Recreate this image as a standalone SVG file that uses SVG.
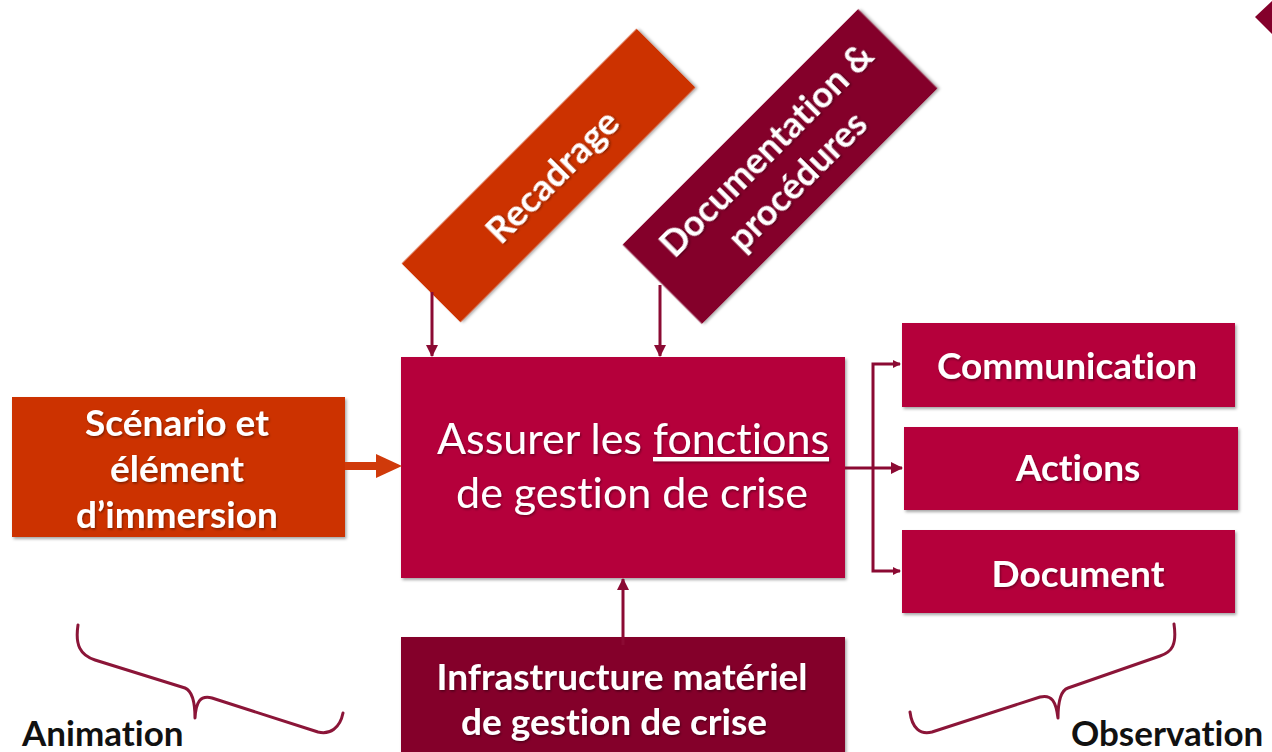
<svg xmlns="http://www.w3.org/2000/svg" width="1272" height="752" viewBox="0 0 1272 752">
<defs>
<filter id="sh" x="-10%" y="-10%" width="130%" height="130%">
<feDropShadow dx="1.5" dy="2" stdDeviation="1.5" flood-color="#000" flood-opacity="0.35"/>
</filter>
<filter id="tsh" x="-10%" y="-20%" width="120%" height="150%">
<feDropShadow dx="1" dy="1.5" stdDeviation="0.8" flood-color="#000" flood-opacity="0.4"/>
</filter>
<marker id="ah" markerWidth="8" markerHeight="8" refX="7" refY="4" orient="auto" markerUnits="userSpaceOnUse" viewBox="0 0 8 8">
<path d="M0,0 L8,4 L0,8 z" fill="#8B0A33"/>
</marker>
<marker id="ahb" markerWidth="12" markerHeight="12" refX="11" refY="6" orient="auto" markerUnits="userSpaceOnUse" viewBox="0 0 12 12">
<path d="M0,0 L12,6 L0,12 z" fill="#8B0A33"/>
</marker>
</defs>
<style>
.orange{fill:#CC3300}
.crimson{fill:#B5003A}
.maroon{fill:#84002B}
text{font-variant-ligatures:none;font-feature-settings:"liga" 0,"clig" 0}
.lbl{font-family:Lato,"Open Sans","Liberation Sans",sans-serif;font-weight:bold;fill:#fff;text-anchor:middle}
.main{font-family:Lato,"Open Sans","Liberation Sans",sans-serif;font-weight:normal;fill:#fff;text-anchor:middle}
.cap{font-family:Lato,"Open Sans","Liberation Sans",sans-serif;font-weight:bold;fill:#111}
.con{stroke:#8B0A33;stroke-width:3;fill:none}
.brace{stroke:#8B1538;stroke-width:3;fill:none;stroke-linecap:round;stroke-linejoin:round}
</style>
<rect width="1272" height="752" fill="#fff"/>

<g id="corner"><polygon points="1272,1 1255,17 1272,34" fill="#84002B"/></g>

<g id="recadrage">
<g transform="translate(548.5,175.5) rotate(-45)">
<rect x="-166" y="-41.5" width="332" height="83" class="orange" filter="url(#sh)"/>
<text x="2" y="16" class="lbl" font-size="37" filter="url(#tsh)">Recadrage</text>
</g>
</g>

<g id="documentation">
<g transform="translate(780,166.5) rotate(-45)">
<rect x="-166.5" y="-56" width="333" height="112" class="maroon" filter="url(#sh)"/>
<text x="2" y="-9" class="lbl" font-size="36" filter="url(#tsh)">Documentation &amp;</text>
<text x="2" y="35" class="lbl" font-size="36" filter="url(#tsh)">procédures</text>
</g>
</g>

<g id="scenario">
<rect x="12" y="397" width="333" height="140" class="orange" filter="url(#sh)"/>
<g filter="url(#tsh)">
<text x="177" y="436" class="lbl" font-size="37">Scénario et</text>
<text x="177" y="482" class="lbl" font-size="37">élément</text>
<text x="177" y="528" class="lbl" font-size="37">d’immersion</text>
</g>
</g>

<g id="main">
<rect x="401" y="357" width="444" height="221" class="crimson" filter="url(#sh)"/>
<g filter="url(#tsh)">
<text x="633" y="454" class="main" font-size="43">Assurer les <tspan text-decoration="underline">fonctions</tspan></text>
<text x="632" y="508" class="main" font-size="43">de gestion de crise</text>
</g>
</g>

<g id="communication">
<rect x="902" y="323" width="333" height="84" class="crimson" filter="url(#sh)"/>
<text x="1067" y="379" class="lbl" font-size="37" filter="url(#tsh)">Communication</text>
</g>
<g id="actions">
<rect x="904" y="427" width="334" height="83" class="crimson" filter="url(#sh)"/>
<text x="1078" y="481" class="lbl" font-size="37" filter="url(#tsh)">Actions</text>
</g>
<g id="document">
<rect x="902" y="530" width="333" height="83" class="crimson" filter="url(#sh)"/>
<text x="1078" y="587" class="lbl" font-size="37" filter="url(#tsh)">Document</text>
</g>

<g id="infrastructure">
<rect x="401" y="637" width="444" height="120" class="maroon" filter="url(#sh)"/>
<g filter="url(#tsh)">
<text x="622" y="690" class="lbl" font-size="37">Infrastructure matériel</text>
<text x="614" y="735" class="lbl" font-size="37">de gestion de crise</text>
</g>
</g>

<g id="connectors">
<line x1="432" y1="292" x2="432" y2="356" class="con" marker-end="url(#ahb)"/>
<line x1="660" y1="285" x2="660" y2="356" class="con" marker-end="url(#ahb)"/>
<line x1="623" y1="645" x2="623" y2="579" class="con" marker-end="url(#ahb)"/>
<path d="M345,466 H378" stroke="#D03A0A" stroke-width="8" fill="none"/>
<polygon points="376,454 402,466 376,478" fill="#D03A0A"/>
<line x1="845" y1="468" x2="902" y2="468" class="con" marker-end="url(#ahb)"/>
<path d="M873,468 V364 H900" class="con" marker-end="url(#ah)"/>
<path d="M873,468 V571 H900" class="con" marker-end="url(#ah)"/>
</g>

<g id="brace-left">
<path d="M78,625 C75,645 80,655 95,660 L185,688 C192,691 195,700 195,718 C196,702 200,695 212,698 L318,732 C330,735 340,728 343,713" class="brace"/>
</g>
<g id="brace-right">
<path d="M1174,624 C1177,645 1172,652 1160,656 L1068,688 C1062,690 1058,700 1058,718 C1056,702 1052,694 1040,697 L932,732 C920,735 912,728 910,712" class="brace"/>
</g>

<text x="22" y="746" class="cap" font-size="35">Animation</text>
<text x="1071" y="746" class="cap" font-size="35">Observation</text>
</svg>
